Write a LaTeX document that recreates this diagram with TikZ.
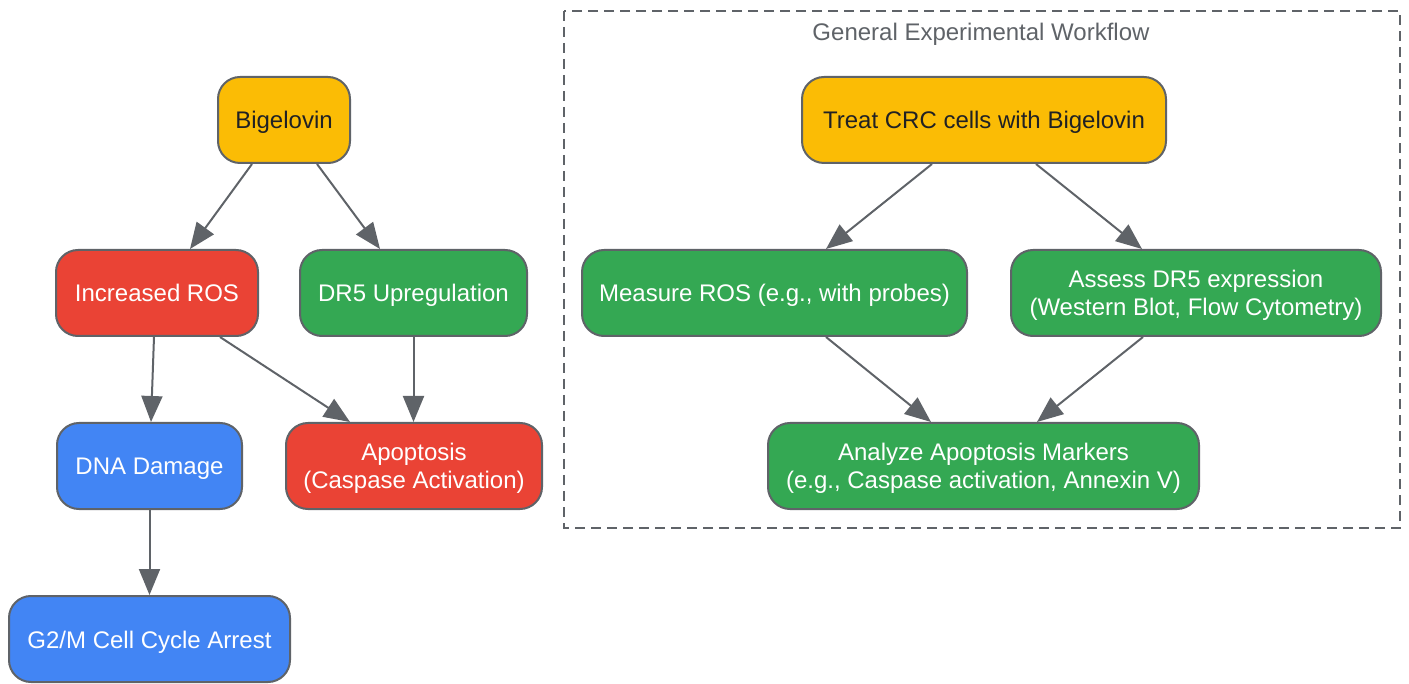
\documentclass[tikz,border=0pt]{standalone}
\usepackage{fontspec}
\setmainfont{Liberation Sans}
\usetikzlibrary{arrows.meta}
\definecolor{cyel}{HTML}{FBBC05}
\definecolor{cred}{HTML}{EA4335}
\definecolor{cgrn}{HTML}{34A853}
\definecolor{cblu}{HTML}{4285F4}
\definecolor{cgry}{HTML}{5F6368}
\definecolor{cdark}{HTML}{202124}
\tikzset{
  x=1pt, y=-1pt,
  box/.style={draw=cgry, line width=2pt, rounded corners=22pt, align=center,
    inner sep=0pt, minimum height=86pt, font=\fontsize{24}{28}\selectfont, text=white,
    text height=20pt, text depth=2pt},
  two/.style={text height=48pt, text depth=2pt},
  yel/.style={box, fill=cyel, text=cdark},
  red/.style={box, fill=cred},
  grn/.style={box, fill=cgrn},
  blu/.style={box, fill=cblu},
  arr/.style={draw=cgry, line width=2pt, -{Triangle[length=26pt,width=21pt]}},
}
\begin{document}
\begin{tikzpicture}
\useasboundingbox (0,0) rectangle (1409,684);
% dashed cluster
\draw[cgry, line width=2pt, dash pattern=on 10pt off 6pt] (564,11) rectangle (1400,528);
\node[text=cgry, font=\fontsize{24}{28}\selectfont, anchor=center] (title) at (981,34) {General Experimental Workflow};
% left graph
\node[yel, minimum width=132pt] (big) at (284,120) {Bigelovin};
\node[red, minimum width=202pt] (ros) at (157,293) {Increased ROS};
\node[grn, minimum width=227pt] (dr5) at (413.5,293) {DR5 Upregulation};
\node[blu, minimum width=185pt] (dna) at (149.5,466) {DNA Damage};
\node[red, two, minimum width=256pt] (apo) at (414,466) {Apoptosis\\(Caspase Activation)};
\node[blu, minimum width=281pt] (g2m) at (149.5,639) {G2/M Cell Cycle Arrest};
% right graph
\node[yel, minimum width=364pt] (treat) at (984,120) {Treat CRC cells with Bigelovin};
\node[grn, minimum width=385pt] (meas) at (774.5,293) {Measure ROS (e.g., with probes)};
\node[grn, two, minimum width=370pt] (assess) at (1196,293) {Assess DR5 expression\\(Western Blot, Flow Cytometry)};
\node[grn, two, minimum width=431pt] (anal) at (983.5,466) {Analyze Apoptosis Markers\\(e.g., Caspase activation, Annexin V)};
% connectors
\draw[arr] ([xshift=-32pt]big.south) -- ([xshift=33pt]ros.north);
\draw[arr] ([xshift=33pt]big.south) -- ([xshift=-33.5pt]dr5.north);
\draw[arr] ([xshift=-3pt]ros.south) -- ([xshift=1.5pt]dna.north);
\draw[arr] ([xshift=63pt]ros.south) -- ([xshift=-64pt]apo.north);
\draw[arr] (dr5.south) -- (apo.north -| dr5.south);
\draw[arr] (dna.south) -- (g2m.north -| dna.south);
\draw[arr] ([xshift=-52pt]treat.south) -- ([xshift=51.5pt]meas.north);
\draw[arr] ([xshift=52pt]treat.south) -- ([xshift=-54pt]assess.north);
\draw[arr] ([xshift=51.5pt]meas.south) -- ([xshift=-52.5pt]anal.north);
\draw[arr] ([xshift=-53pt]assess.south) -- ([xshift=53.5pt]anal.north);
\end{tikzpicture}
\end{document}
